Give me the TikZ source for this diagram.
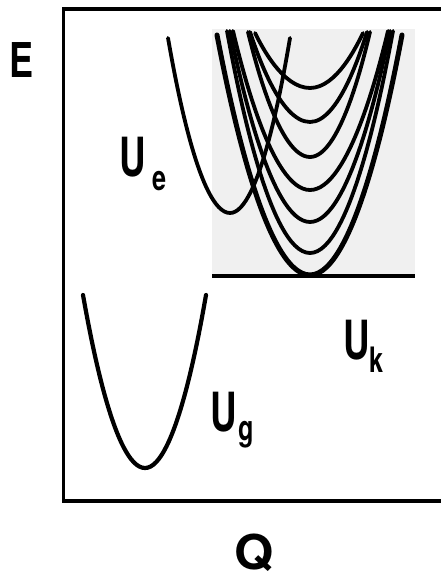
\documentclass[tikz,border=0pt]{standalone}
\usepackage{fontspec}
\setmainfont{TeX Gyre Heros}
\definecolor{boxgray}{HTML}{F0F0F0}
\tikzset{
  curve/.style={line width=3.8bp, line cap=round},
  thickcurve/.style={line width=5bp, line cap=round},
  bigU/.style={inner sep=0pt, font=\bfseries\fontsize{54bp}{60bp}\selectfont, xscale=0.68, transform shape},
  subs/.style={inner sep=0pt, font=\bfseries\fontsize{35bp}{40bp}\selectfont, xscale=0.72, transform shape},
  axislbl/.style={inner sep=0pt, font=\bfseries\fontsize{48bp}{52bp}\selectfont}
}
\begin{document}
\begin{tikzpicture}[x=1bp,y=-1bp]
\useasboundingbox (0,0) rectangle (441,580);
% gray box
\fill[boxgray] (212,29) rectangle (415,276);
% frame
\draw[line width=3.2bp] (446,9) -- (63.5,9) -- (63.5,501) -- (446,501);
% base line
\draw[line width=4.5bp] (212,276) -- (415,276);
% U_k family
\draw[thickcurve] (217,35) parabola bend (310,275) (402,35);
\draw[curve] (227,31) parabola bend (310,253) (393,31);
\draw[curve] (230,31) parabola bend (310,222) (390,31);
\draw[curve] (233,31) parabola bend (310,190) (388,31);
\draw[curve] (248,32) parabola bend (310,157) (370,32);
\draw[curve] (250,32) parabola bend (310,122) (367,32);
\draw[curve] (255,33) parabola bend (310,88) (363,33);
% U_e
\draw[curve] (168,38) parabola bend (230,213) (290,38);
% U_g
\draw[line width=4.2bp, line cap=round] (83,295) parabola bend (145,468) (206,295);
% labels
\node[bigU] (ue) at (133,157.5) {U};
\node[subs] (uesub) at (159.5,181) {e};
\node[bigU] (uk) at (357,340) {U};
\node[subs] (uksub) at (376.5,360) {k};
\node[bigU] (ug) at (224,412) {U};
\node[subs] (ugsub) at (246,435) {g};
\node[axislbl, xscale=0.75, transform shape] (E) at (22,60.5) {E};
\node[axislbl, xscale=1.05, transform shape] (Q) at (254,553) {Q};
\end{tikzpicture}
\end{document}
